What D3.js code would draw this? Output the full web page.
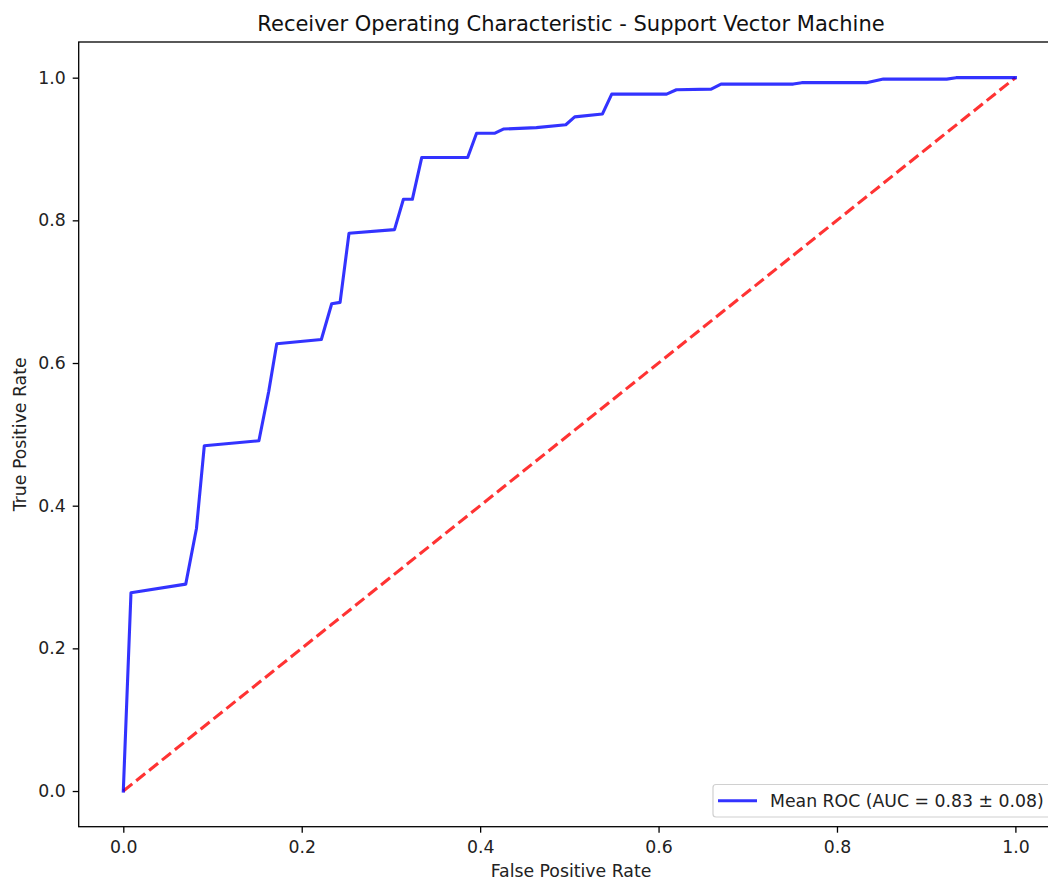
<!DOCTYPE html>
<html>
<head>
<meta charset="utf-8">
<script src="https://cdn.jsdelivr.net/npm/d3@7"></script>
<style>
  html, body { margin: 0; padding: 0; background: #fff; overflow: hidden; }
  svg { display: block; font-family: "DejaVu Sans", sans-serif; }
</style>
</head>
<body>
<svg id="chart" width="1048" height="884"></svg>
<script>
// ---- data ----
const fpr = [0.0, 0.0086, 0.070, 0.082, 0.0908, 0.152, 0.163, 0.172, 0.222, 0.2336, 0.243, 0.253, 0.304, 0.314, 0.324, 0.3345, 0.386, 0.396, 0.416, 0.426, 0.463, 0.496, 0.506, 0.537, 0.5475, 0.609, 0.620, 0.659, 0.670, 0.751, 0.7605, 0.833, 0.852, 0.923, 0.9335, 1.0];
const tpr = [0.0, 0.278, 0.290, 0.368, 0.484, 0.491, 0.560, 0.627, 0.633, 0.683, 0.685, 0.782, 0.787, 0.8295, 0.8295, 0.888, 0.888, 0.922, 0.922, 0.928, 0.930, 0.934, 0.945, 0.949, 0.977, 0.977, 0.983, 0.984, 0.991, 0.991, 0.993, 0.993, 0.998, 0.998, 1.0, 1.0];
const chanceX = [0, 1];
const chanceY = [0, 1];
const xTicks = [0.0, 0.2, 0.4, 0.6, 0.8, 1.0];
const yTicks = [0.0, 0.2, 0.4, 0.6, 0.8, 1.0];
const titleText = "Receiver Operating Characteristic - Support Vector Machine";
const xLabel = "False Positive Rate";
const yLabel = "True Positive Rate";
const legendLabel = "Mean ROC (AUC = 0.83 \u00b1 0.08)";

// ---- layout ----
const svg = d3.select("#chart");
const L = 78.7, R = 1060, T = 42, B = 826.7;
const FS = 17.3;
const x = d3.scaleLinear().domain([-0.05, 1.05]).range([L, R]);
const y = d3.scaleLinear().domain([-0.05, 1.05]).range([B, T]);

svg.append("defs").append("clipPath").attr("id", "clip")
  .append("rect").attr("x", L).attr("y", T).attr("width", R - L).attr("height", B - T);

const plot = svg.append("g").attr("clip-path", "url(#clip)");

// chance line
plot.append("path")
  .datum(chanceX.map((d, i) => [d, chanceY[i]]))
  .attr("d", d3.line().x(d => x(d[0])).y(d => y(d[1])))
  .attr("fill", "none")
  .attr("stroke", "rgba(255,0,0,0.8)")
  .attr("stroke-width", 3.1)
  .attr("stroke-dasharray", "11.5,5");

// ROC line
plot.append("path")
  .datum(fpr.map((d, i) => [d, tpr[i]]))
  .attr("d", d3.line().x(d => x(d[0])).y(d => y(d[1])))
  .attr("fill", "none")
  .attr("stroke", "rgba(0,0,255,0.8)")
  .attr("stroke-width", 3.1)
  .attr("stroke-linejoin", "round")
  .attr("stroke-linecap", "square");

// axes
const xAxis = svg.append("g").attr("transform", `translate(0,${B})`)
  .call(d3.axisBottom(x).tickValues(xTicks).tickFormat(d3.format(".1f")).tickSize(6).tickPadding(8));
const yAxis = svg.append("g").attr("transform", `translate(${L},0)`)
  .call(d3.axisLeft(y).tickValues(yTicks).tickFormat(d3.format(".1f")).tickSize(6).tickPadding(7));
[xAxis, yAxis].forEach(a => {
  a.select(".domain").remove();
  a.selectAll("line").attr("stroke", "#000").attr("stroke-width", 1.3);
  a.selectAll("text").attr("font-size", FS).attr("fill", "#222")
    .attr("font-family", "DejaVu Sans, sans-serif");
});

// spines (right spine lies off-canvas)
svg.append("rect").attr("x", L).attr("y", T).attr("width", R - L).attr("height", B - T)
  .attr("fill", "none").attr("stroke", "#000").attr("stroke-width", 1.3);

// title and labels
svg.append("text").attr("x", 571).attr("y", 30.5)
  .attr("text-anchor", "middle").attr("font-size", 21).attr("fill", "#111").text(titleText);
svg.append("text").attr("x", 571).attr("y", 877)
  .attr("text-anchor", "middle").attr("font-size", FS).attr("fill", "#222").text(xLabel);
svg.append("text").attr("transform", `translate(26,${(T + B) / 2}) rotate(-90)`)
  .attr("text-anchor", "middle").attr("font-size", FS).attr("fill", "#222").text(yLabel);

// legend
const lg = svg.append("g");
lg.append("rect").attr("x", 713).attr("y", 784.5).attr("width", 345).attr("height", 32.5)
  .attr("rx", 3).attr("fill", "rgba(255,255,255,0.8)").attr("stroke", "#d0d0d0").attr("stroke-width", 1.2);
lg.append("line").attr("x1", 718).attr("x2", 757).attr("y1", 800.7).attr("y2", 800.7)
  .attr("stroke", "rgba(0,0,255,0.8)").attr("stroke-width", 3.1);
lg.append("text").attr("x", 770).attr("y", 807).attr("font-size", FS).attr("fill", "#222").text(legendLabel);
</script>
</body>
</html>
